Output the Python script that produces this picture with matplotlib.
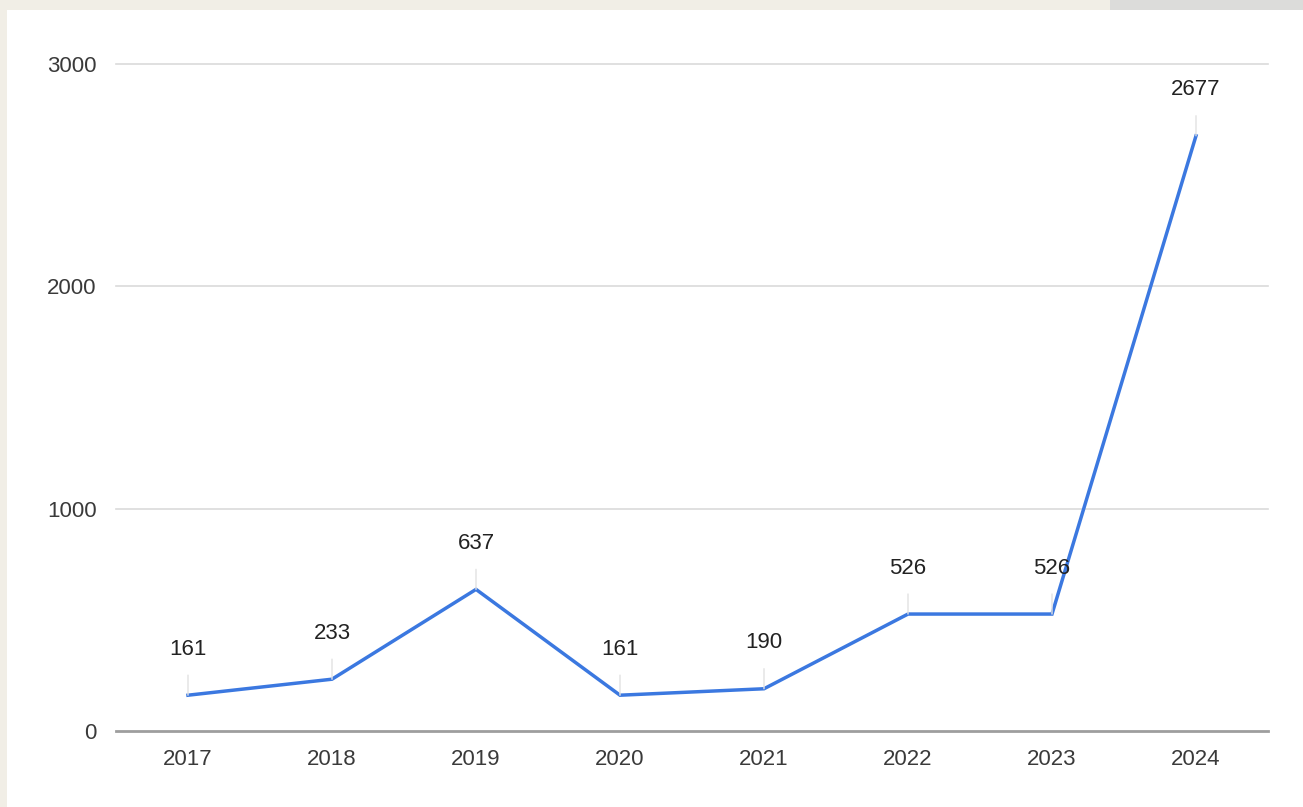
import matplotlib.pyplot as plt
import matplotlib.patches as mpatches

years = ["2017", "2018", "2019", "2020", "2021", "2022", "2023", "2024"]
counts = [161, 233, 637, 161, 190, 526, 526, 2677]
yticks = [0, 1000, 2000, 3000]

W, H = 1303, 807
plt.rcParams['font.family'] = ['Liberation Sans', 'DejaVu Sans']

fig = plt.figure(figsize=(W / 100, H / 100), dpi=100)
fig.patch.set_facecolor('#f1eee6')

# white card behind the chart, grey strip at the top right
fig.patches.append(mpatches.Rectangle((7 / W, 0), 1 - 7 / W, 1 - 10 / H,
                                      transform=fig.transFigure, facecolor='white',
                                      edgecolor='none', zorder=-10))
fig.patches.append(mpatches.Rectangle((1110 / W, 1 - 10 / H), 1 - 1110 / W, 10 / H,
                                      transform=fig.transFigure, facecolor='#dcdcda',
                                      edgecolor='none', zorder=-10))

left, right = 116 / W, 1268 / W
top, bottom = 1 - 64 / H, 1 - 731 / H
ax = fig.add_axes([left, bottom, right - left, top - bottom])
ax.set_facecolor('none')

x = list(range(len(years)))
ax.set_xlim(-0.5, len(years) - 0.5)
ax.set_ylim(0, 3000)

for t in yticks[1:]:
    ax.axhline(t, color='#dadada', lw=1.2, zorder=1, clip_on=False)
ax.axhline(0, color='#9e9e9e', lw=2.0, zorder=2, clip_on=False)

ax.plot(x, counts, color='#3b78e0', lw=2.5, zorder=4, solid_joinstyle='miter')

# value labels with thin leader lines
for xi, v in zip(x, counts):
    ax.annotate(str(v), xy=(xi, v), xytext=(0, 33), textcoords='offset points',
                ha='center', va='center', fontsize=16, color='#222222', zorder=5,
                arrowprops=dict(arrowstyle='-', color='#e2e2e2', lw=1,
                                shrinkA=9, shrinkB=0))

ax.set_xticks(x)
ax.set_xticklabels(years, fontsize=16, color='#3a3a3a')
ax.set_yticks(yticks)
ax.set_yticklabels([str(t) for t in yticks], fontsize=16, color='#3a3a3a')
ax.tick_params(axis='both', length=0)
ax.tick_params(axis='x', pad=13)
ax.tick_params(axis='y', pad=14)
for s in ax.spines.values():
    s.set_visible(False)

fig.savefig('out.png', dpi=100, facecolor=fig.get_facecolor())
